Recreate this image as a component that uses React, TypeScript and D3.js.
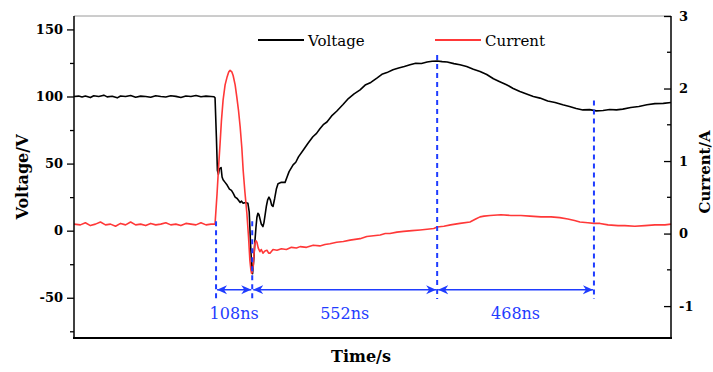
import { useEffect, useRef } from "react";
import * as d3 from "d3";

// time in ns, voltage in V
const voltageTime = [
  -424, -410, -400, -390, -375, -365, -350, -335, -325, -310, -295, -285, -270, -255, -240, -225,
  -210, -195, -180, -165, -150, -135, -120, -105, -90, -75, -60, -45, -30, -15, -6, -3, 1, 4, 7,
  10, 15, 18, 21, 27, 33, 40, 46, 51, 57, 63, 72, 76, 81, 88, 95, 99, 103, 107, 109, 111, 113,
  116, 119, 122, 125, 128, 131, 135, 140, 143, 146, 150, 154, 158, 162, 166, 170, 175, 180, 185,
  195, 206, 212, 218, 230, 238, 246, 260, 274, 289, 300, 310, 320, 331, 345, 360, 379, 395, 412,
  430, 445, 462, 480, 495, 510, 528, 545, 562, 579, 596, 613, 630, 645, 660, 675, 690, 710, 728,
  748, 768, 788, 808, 828, 847, 867, 887, 907, 927, 947, 967, 990, 1012, 1035, 1055, 1075, 1095,
  1115, 1135, 1155, 1175, 1195, 1214, 1238, 1262, 1286, 1310, 1335, 1358,
];
const voltageValue = [
  100, 100.3, 99.6, 100.4, 99.2, 100.5, 100, 101, 99.7, 100.2, 99, 100.4, 100, 100.8, 99.5, 100.3,
  100, 99.4, 100.6, 100, 99.6, 100.5, 100.1, 99.3, 100.4, 100, 100.7, 99.8, 100.3, 100, 99.8, 99,
  70, 45, 42, 46, 47, 40, 38, 36, 34, 31, 30, 28, 25, 24, 21, 22, 20.5, 21, 20.5, 14, -10, -30,
  -32, -26, -20, -8, 2, 10, 13, 12, 9, 5, 3, 6, 11, 18, 23, 25, 23, 19, 18, 24, 31, 35, 36, 36,
  40, 44, 49, 51, 55, 60, 65, 70, 72.5, 76, 79, 81, 85.5, 89, 94, 98.5, 102, 105, 108.5, 110.5,
  113.7, 116.5, 117.8, 120, 121.2, 122.3, 123.6, 124.8, 124.6, 125.7, 126.3, 126.5, 126, 125.7,
  124.5, 123.6, 122.3, 120.3, 118.7, 116.4, 113.2, 111, 108.8, 106, 103.7, 101.8, 100, 98.8, 96.6,
  95.5, 93.8, 92.6, 91.1, 90, 90.2, 89.3, 89.6, 90.3, 90, 90.6, 91.8, 92.6, 93.8, 94.7, 94.9, 95.5,
];

// time in ns, current in A
const currentTime = [
  -424, -405, -390, -375, -360, -345, -330, -315, -300, -285, -270, -255, -240, -225, -210, -195,
  -180, -165, -150, -135, -120, -105, -90, -75, -60, -45, -30, -15, -3, 3, 8, 12, 16, 21, 27, 33,
  38, 42, 47, 51, 57, 62, 67, 72, 77, 81, 86, 92, 97, 101, 104, 106, 108, 111, 113, 116, 119, 122,
  126, 131, 135, 140, 146, 152, 157, 161, 170, 182, 195, 210, 225, 240, 251, 270, 290, 310, 325,
  340, 360, 380, 400, 415, 430, 450, 470, 490, 505, 519, 540, 560, 585, 609, 630, 650, 660, 680,
  700, 728, 758, 775, 788, 800, 818, 850, 880, 910, 937, 970, 1000, 1026, 1050, 1070, 1086, 1110,
  1128, 1146, 1170, 1200, 1220, 1250, 1280, 1310, 1340, 1358,
];
const currentValue = [
  0.13, 0.12, 0.15, 0.11, 0.13, 0.16, 0.12, 0.13, 0.1, 0.14, 0.12, 0.16, 0.12, 0.13, 0.11, 0.14,
  0.12, 0.13, 0.15, 0.12, 0.13, 0.11, 0.14, 0.13, 0.12, 0.15, 0.12, 0.13, 0.13, 0.55, 0.95, 1.24,
  1.55, 1.84, 2.05, 2.16, 2.23, 2.25, 2.23, 2.18, 2.05, 1.88, 1.7, 1.47, 1.18, 0.87, 0.58, 0.28,
  -0.05, -0.37, -0.5, -0.55, -0.53, -0.46, -0.3, -0.13, -0.1, -0.12, -0.2, -0.25, -0.22, -0.27,
  -0.24, -0.23, -0.27, -0.27, -0.22, -0.23, -0.21, -0.22, -0.19, -0.2, -0.18, -0.19, -0.16, -0.17,
  -0.15, -0.14, -0.12, -0.11, -0.09, -0.08, -0.07, -0.04, -0.03, -0.02, 0.0, 0, 0.02, 0.03, 0.04,
  0.05, 0.06, 0.07, 0.09, 0.1, 0.12, 0.14, 0.16, 0.2, 0.23, 0.24, 0.25, 0.26, 0.25, 0.25, 0.24,
  0.23, 0.23, 0.22, 0.2, 0.18, 0.16, 0.15, 0.14, 0.14, 0.12, 0.11, 0.11, 0.1, 0.11, 0.12, 0.12, 0.13,
];

const voltageTicks = [-50, 0, 50, 100, 150];
const voltageMinor = [-75, -25, 25, 75, 125];
const currentTicks = [-1, 0, 1, 2, 3];
const currentMinor = [-0.5, 0.5, 1.5, 2.5];

// annotation markers (ns) and where the dashed lines start (V)
const markerTimes = [0, 108, 660, 1128];
const markerTops = [7, 7, 131, 97];
const intervalLabels = ["108ns", "552ns", "468ns"];

const width = 713;
const height = 372;
const margin = { top: 16, right: 42, bottom: 34, left: 74 };

const FONT = "DejaVu Serif";
const BLUE = "#1f3cff";

export default function App() {
  const svgRef = useRef<SVGSVGElement>(null);

  useEffect(() => {
    const boundsWidth = width - margin.left - margin.right;
    const boundsHeight = height - margin.top - margin.bottom;

    const xScale = d3.scaleLinear().domain([-424, 1358]).range([0, boundsWidth]);
    const yV = d3.scaleLinear().domain([-80, 160]).range([boundsHeight, 0]);
    const yI = d3.scaleLinear().domain([-1.44, 3]).range([boundsHeight, 0]);

    const svg = d3.select(svgRef.current);
    svg.selectAll("*").remove();

    const defs = svg.append("defs");
    // barbed arrow head
    defs
      .append("marker")
      .attr("id", "arrow")
      .attr("viewBox", "0 0 10 10")
      .attr("refX", 10)
      .attr("refY", 5)
      .attr("markerWidth", 10)
      .attr("markerHeight", 10)
      .attr("markerUnits", "userSpaceOnUse")
      .attr("orient", "auto-start-reverse")
      .append("path")
      .attr("d", "M0,0.5 L10,5 L0,9.5 L3,5 Z")
      .attr("fill", BLUE);

    const g = svg
      .append("g")
      .attr("transform", `translate(${margin.left},${margin.top})`);

    // top frame (thin grey)
    g.append("line")
      .attr("x1", 0)
      .attr("x2", boundsWidth)
      .attr("y1", 0)
      .attr("y2", 0)
      .attr("stroke", "#9a9a9a")
      .attr("stroke-width", 1);

    // series
    const vData = voltageTime.map((t, i) => [t, voltageValue[i]] as [number, number]);
    const iData = currentTime.map((t, i) => [t, currentValue[i]] as [number, number]);

    g.append("path")
      .datum(vData)
      .attr("fill", "none")
      .attr("stroke", "#000")
      .attr("stroke-width", 1.6)
      .attr("stroke-linejoin", "round")
      .attr(
        "d",
        d3
          .line<[number, number]>()
          .x((d) => xScale(d[0]))
          .y((d) => yV(d[1]))
      );

    g.append("path")
      .datum(iData)
      .attr("fill", "none")
      .attr("stroke", "#ff3838")
      .attr("stroke-width", 1.6)
      .attr("stroke-linejoin", "round")
      .attr(
        "d",
        d3
          .line<[number, number]>()
          .x((d) => xScale(d[0]))
          .y((d) => yI(d[1]))
      );

    // dashed marker lines
    markerTimes.forEach((t, i) => {
      g.append("line")
        .attr("x1", xScale(t))
        .attr("x2", xScale(t))
        .attr("y1", yV(markerTops[i]))
        .attr("y2", yV(-51))
        .attr("stroke", BLUE)
        .attr("stroke-width", 2)
        .attr("stroke-dasharray", "5,4");
    });

    // interval arrows + labels
    const arrowY = yV(-44);
    intervalLabels.forEach((label, i) => {
      const x1 = xScale(markerTimes[i]);
      const x2 = xScale(markerTimes[i + 1]);
      g.append("line")
        .attr("x1", x1 + 1)
        .attr("x2", x2 - 1)
        .attr("y1", arrowY)
        .attr("y2", arrowY)
        .attr("stroke", BLUE)
        .attr("stroke-width", 1.6)
        .attr("marker-start", "url(#arrow)")
        .attr("marker-end", "url(#arrow)");
      g.append("text")
        .attr("x", (x1 + x2) / 2)
        .attr("y", arrowY + 29)
        .attr("text-anchor", "middle")
        .attr("font-family", FONT)
        .attr("font-size", 16)
        .attr("fill", BLUE)
        .text(label);
    });

    const fmt = (d: d3.NumberValue) => String(d);

    // left axis
    const left = g
      .append("g")
      .call(d3.axisLeft(yV).tickValues(voltageTicks).tickSize(7).tickPadding(4).tickFormat(fmt));
    left.select(".domain").attr("stroke-width", 1.5).attr("d", `M0,0V${boundsHeight}`);
    left
      .selectAll("text")
      .attr("font-family", FONT)
      .attr("font-weight", "bold")
      .attr("font-size", 13)
      .attr("fill", "#000");
    left.selectAll(".tick line").attr("stroke-width", 1.3);
    g.append("g")
      .call(d3.axisLeft(yV).tickValues(voltageMinor).tickSize(4).tickFormat(() => ""))
      .call((a) => a.select(".domain").remove())
      .selectAll("line")
      .attr("stroke-width", 1.3);

    // right axis (ticks pointing inward)
    const right = g
      .append("g")
      .attr("transform", `translate(${boundsWidth},0)`)
      .call(d3.axisRight(yI).tickValues(currentTicks).tickSize(0).tickPadding(8).tickFormat(fmt));
    right.select(".domain").attr("stroke-width", 1.5).attr("d", `M0,0V${boundsHeight}`);
    right
      .selectAll("text")
      .attr("font-family", FONT)
      .attr("font-weight", "bold")
      .attr("font-size", 13)
      .attr("fill", "#000");
    right
      .selectAll(".tick")
      .append("line")
      .attr("x1", -7)
      .attr("x2", 0)
      .attr("stroke", "#000")
      .attr("stroke-width", 1.3);
    currentMinor.forEach((v) => {
      right
        .append("line")
        .attr("x1", -4)
        .attr("x2", 0)
        .attr("y1", yI(v))
        .attr("y2", yI(v))
        .attr("stroke", "#000")
        .attr("stroke-width", 1.3);
    });

    // bottom axis line
    g.append("line")
      .attr("x1", -1)
      .attr("x2", boundsWidth + 1)
      .attr("y1", boundsHeight)
      .attr("y2", boundsHeight)
      .attr("stroke", "#000")
      .attr("stroke-width", 2);

    // axis titles
    svg
      .append("text")
      .attr("transform", `translate(28,${margin.top + yV(40)}) rotate(-90)`)
      .attr("text-anchor", "middle")
      .attr("font-family", FONT)
      .attr("font-weight", "bold")
      .attr("font-size", 16)
      .text("Voltage/V");

    svg
      .append("text")
      .attr("transform", `translate(710,${margin.top + yI(0.85)}) rotate(-90)`)
      .attr("text-anchor", "middle")
      .attr("font-family", FONT)
      .attr("font-weight", "bold")
      .attr("font-size", 15)
      .text("Current/A");

    svg
      .append("text")
      .attr("x", 361)
      .attr("y", 362)
      .attr("text-anchor", "middle")
      .attr("font-family", FONT)
      .attr("font-weight", "bold")
      .attr("font-size", 16)
      .text("Time/s");

    // legend
    const legend = [
      { name: "Voltage", color: "#000", x: 258 },
      { name: "Current", color: "#ff3838", x: 435 },
    ];
    legend.forEach((l) => {
      svg
        .append("line")
        .attr("x1", l.x)
        .attr("x2", l.x + 46)
        .attr("y1", 40)
        .attr("y2", 40)
        .attr("stroke", l.color)
        .attr("stroke-width", 1.8);
      svg
        .append("text")
        .attr("x", l.x + 50)
        .attr("y", 46)
        .attr("font-family", FONT)
        .attr("font-size", 15)
        .text(l.name);
    });
  }, []);

  return (
    <svg
      ref={svgRef}
      width={width}
      height={height}
      style={{ position: "absolute", left: 0, top: 0, background: "#fff" }}
    ></svg>
  );
}
